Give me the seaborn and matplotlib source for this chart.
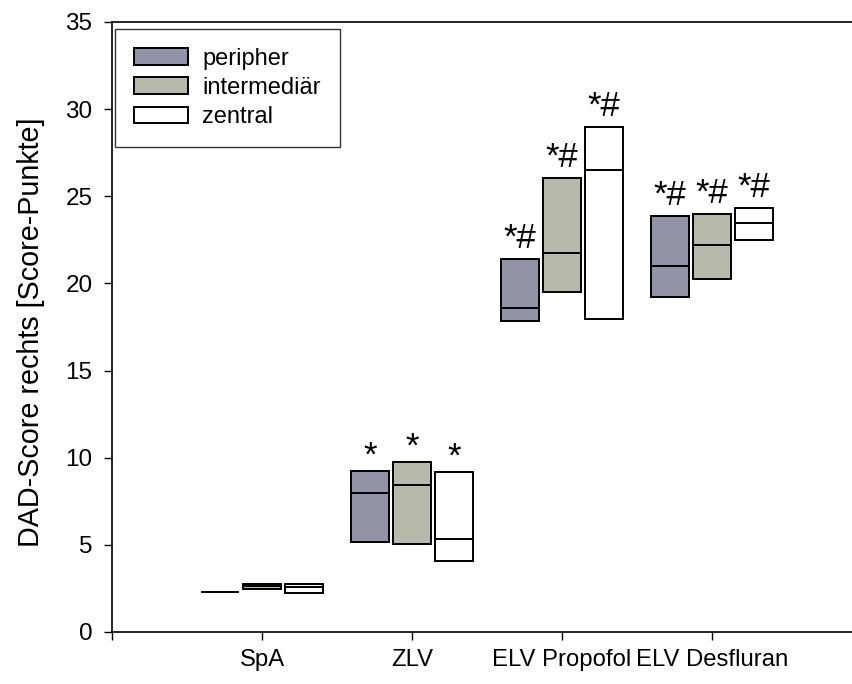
import matplotlib
matplotlib.use("Agg")
import matplotlib.pyplot as plt
from matplotlib.patches import Patch
import seaborn as sns
import pandas as pd
import numpy as np

categories = ["SpA", "ZLV", "ELV Propofol", "ELV Desfluran"]
groups = ["peripher", "intermediär", "zentral"]

# 25th percentile, median, 75th percentile per group (order of categories)
q1_peripher = [2.29, 5.18, 17.86, 19.24]
med_peripher = [2.29, 7.99, 18.59, 21.02]
q3_peripher = [2.29, 9.24, 21.40, 23.87]

q1_intermed = [2.47, 5.07, 19.49, 20.25]
med_intermed = [2.62, 8.42, 21.73, 22.20]
q3_intermed = [2.74, 9.77, 26.03, 23.98]

q1_zentral = [2.22, 4.09, 17.96, 22.47]
med_zentral = [2.58, 5.32, 26.49, 23.48]
q3_zentral = [2.74, 9.20, 28.99, 24.33]

marks_peripher = ["", "*", "*#", "*#"]
marks_intermed = ["", "*", "*#", "*#"]
marks_zentral = ["", "*", "*#", "*#"]

colors = {"peripher": "#9393A8", "intermediär": "#B8B8AB", "zentral": "#FFFFFF"}

stats = {
    "peripher": (q1_peripher, med_peripher, q3_peripher, marks_peripher),
    "intermediär": (q1_intermed, med_intermed, q3_intermed, marks_intermed),
    "zentral": (q1_zentral, med_zentral, q3_zentral, marks_zentral),
}

sns.set_theme(style="ticks")
plt.rcParams["font.family"] = ["Liberation Sans", "DejaVu Sans"]
plt.rcParams["text.color"] = "black"
plt.rcParams["axes.labelcolor"] = "black"
plt.rcParams["xtick.color"] = "black"
plt.rcParams["ytick.color"] = "black"

W, H = 852, 684
fig = plt.figure(figsize=(W / 100, H / 100), dpi=100)
ax = fig.add_axes([112 / W, (H - 632) / H, 760 / W, 610 / H])
ax.patch.set_edgecolor("none")
ax.patch.set_facecolor("white")

offsets = {"peripher": -0.28, "intermediär": 0.0, "zentral": 0.28}
bar_w = 0.25
lw = 1.4

for g in groups:
    q1, med, q3, marks = stats[g]
    pos = np.arange(1, len(categories) + 1) + offsets[g]
    df = pd.DataFrame({"x": pos, "h": np.array(q3) - np.array(q1)})
    sns.barplot(data=df, x="x", y="h", native_scale=True, width=bar_w,
                errorbar=None, color=colors[g], saturation=1,
                bottom=np.array(q1), edgecolor="black", linewidth=lw, ax=ax)
    ax.hlines(med, pos - bar_w / 2, pos + bar_w / 2, color="black", lw=lw, zorder=5)
    for xp, top, m in zip(pos, q3, marks):
        if m:
            dy = 5 if m == "*" else 11
            ax.annotate(m, (xp, top), xytext=(0, dy), textcoords="offset pixels",
                        ha="center", va="baseline", fontsize=25, color="black")

ax.set_xlim(0, 760 / 150)
ax.set_ylim(0, 35)
ax.set_xticks(range(0, len(categories) + 1))
ax.set_xticklabels([""] + categories)
ax.set_yticks(range(0, 36, 5))
ax.tick_params(axis="both", direction="out", length=6, width=1.0, color="black")
ax.tick_params(axis="x", labelsize=17.2, pad=6)
ax.tick_params(axis="y", labelsize=17.5, pad=8)
ax.set_xlabel("")
ax.set_ylabel("DAD-Score rechts [Score-Punkte]", fontsize=20.7)
ax.yaxis.set_label_coords(-0.088, 0.492)
for s in ["left", "bottom", "top"]:
    ax.spines[s].set_linewidth(1.2)
    ax.spines[s].set_color("black")
ax.spines["right"].set_visible(False)

handles = [Patch(facecolor=colors[g], edgecolor="black", linewidth=lw, label=g) for g in groups]
leg = ax.legend(handles=handles, loc="upper left", bbox_to_anchor=(0.004, 0.9885),
                borderaxespad=0, fontsize=17, frameon=True, fancybox=False,
                handlelength=2.3, handleheight=0.7, handletextpad=0.6,
                labelspacing=0.3, borderpad=0.8)
leg.get_frame().set_edgecolor("black")
leg.get_frame().set_linewidth(1.0)

fig.savefig("out.png", dpi=100, facecolor="white")
